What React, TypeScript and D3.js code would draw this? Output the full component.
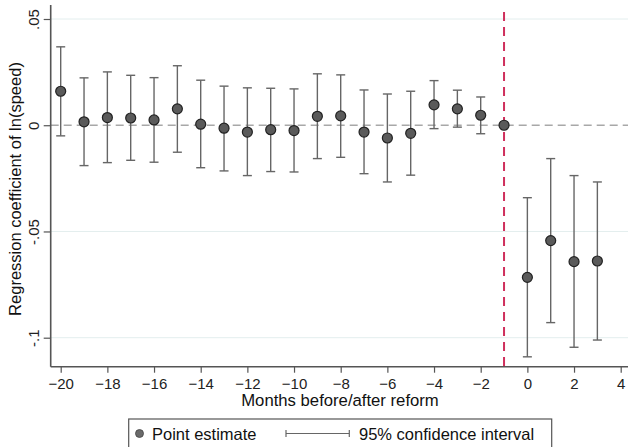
import React, { useEffect, useRef } from "react";
import { select, scaleLinear, axisLeft, axisBottom } from "d3";

// months relative to reform, point estimates and 95% CI bounds
const months = [-20, -19, -18, -17, -16, -15, -14, -13, -12, -11, -10, -9, -8, -7, -6, -5, -4, -3, -2, -1, 0, 1, 2, 3];
const estimates = [0.016, 0.0016, 0.0036, 0.0034, 0.0025, 0.0077, 0.0005, -0.0014, -0.0032, -0.0021, -0.0025, 0.0042, 0.0044, -0.0032, -0.006, -0.0038, 0.0096, 0.0077, 0.0047, 0, -0.0716, -0.0543, -0.0642, -0.0639];
const ciLow = [-0.005, -0.019, -0.0176, -0.0165, -0.0174, -0.0127, -0.02, -0.0215, -0.0237, -0.0218, -0.022, -0.0157, -0.0151, -0.0228, -0.0267, -0.0235, -0.0016, -0.0009, -0.004, null, -0.109, -0.0929, -0.1045, -0.1011];
const ciHigh = [0.0369, 0.0223, 0.0251, 0.0235, 0.0224, 0.028, 0.0212, 0.0184, 0.0176, 0.0174, 0.0171, 0.0242, 0.0237, 0.0166, 0.0147, 0.016, 0.021, 0.0165, 0.0133, null, -0.0341, -0.0157, -0.0237, -0.0267];
const xTicks = [-20, -18, -16, -14, -12, -10, -8, -6, -4, -2, 0, 2, 4];
const yTicks = [-0.1, -0.05, 0, 0.05];
const yTickLabels = ["-.1", "-.05", "0", ".05"];
const reformMonth = -1;

const W = 629;
const H = 447;
const FONT = "'Liberation Sans', Arial, Helvetica, sans-serif";

const App = () => {
  const ref = useRef<SVGSVGElement>(null);

  useEffect(() => {
    const svg = select(ref.current);
    svg.selectAll("*").remove();

    const x = scaleLinear().domain([-20, 4]).range([60.7, 620.7]);
    const y = scaleLinear().domain([-0.1, 0.05]).range([337.7, 19]);
    const left = 50.7;
    const right = 628;
    const top = 5;
    const bottom = 366.7;

    // gridlines
    svg
      .append("g")
      .selectAll("line")
      .data(yTicks.filter((d) => d !== 0))
      .join("line")
      .attr("x1", left)
      .attr("x2", right)
      .attr("y1", (d) => y(d))
      .attr("y2", (d) => y(d))
      .attr("stroke", "#e3eeee")
      .attr("stroke-width", 1);

    // zero line, dashed
    svg
      .append("line")
      .attr("x1", left)
      .attr("x2", right)
      .attr("y1", y(0))
      .attr("y2", y(0))
      .attr("stroke", "#a8a8a8")
      .attr("stroke-width", 1.3)
      .attr("stroke-dasharray", "8,5");

    // reform line
    svg
      .append("line")
      .attr("x1", x(reformMonth))
      .attr("x2", x(reformMonth))
      .attr("y1", 12)
      .attr("y2", bottom)
      .attr("stroke", "#cf2f5c")
      .attr("stroke-width", 2)
      .attr("stroke-dasharray", "9,6");

    // y axis
    const yAxis = axisLeft(y)
      .tickValues(yTicks)
      .tickSize(7)
      .tickFormat((d, i) => yTickLabels[i]);
    const gy = svg.append("g").attr("transform", `translate(${left},0)`).call(yAxis);
    gy.select(".domain").remove();
    gy.selectAll(".tick line").attr("stroke", "#555").attr("stroke-width", 1.2);
    gy.selectAll(".tick text")
      .attr("x", 0)
      .attr("y", -12)
      .attr("dy", 0)
      .attr("transform", "rotate(-90)")
      .attr("text-anchor", "middle")
      .attr("fill", "#222")
      .style("font-family", FONT)
      .style("font-size", "15px");
    svg
      .append("line")
      .attr("x1", left)
      .attr("x2", left)
      .attr("y1", top)
      .attr("y2", bottom)
      .attr("stroke", "#555")
      .attr("stroke-width", 1.6);

    // x axis
    const xAxis = axisBottom(x).tickValues(xTicks).tickSize(6).tickPadding(6);
    const gx = svg.append("g").attr("transform", `translate(0,${bottom})`).call(xAxis);
    gx.select(".domain").remove();
    gx.selectAll(".tick line").attr("stroke", "#555").attr("stroke-width", 1.2);
    gx.selectAll(".tick text")
      .attr("fill", "#222")
      .style("font-family", FONT)
      .style("font-size", "15px");
    svg
      .append("line")
      .attr("x1", left)
      .attr("x2", right)
      .attr("y1", bottom)
      .attr("y2", bottom)
      .attr("stroke", "#555")
      .attr("stroke-width", 1.6);

    // axis titles
    svg
      .append("text")
      .attr("x", 340)
      .attr("y", 406)
      .attr("text-anchor", "middle")
      .attr("fill", "#111")
      .style("font-family", FONT)
      .style("font-size", "16.7px")
      .text("Months before/after reform");
    svg
      .append("text")
      .attr("transform", "translate(21,189) rotate(-90)")
      .attr("text-anchor", "middle")
      .attr("fill", "#111")
      .style("font-family", FONT)
      .style("font-size", "16.5px")
      .text("Regression coefficient of ln(speed)");

    // confidence intervals
    const ci = months
      .map((m, i) => ({ m, lo: ciLow[i], hi: ciHigh[i] }))
      .filter((d) => d.lo !== null && d.hi !== null);
    const cap = 4.5;
    const gci = svg.append("g").attr("stroke", "#666").attr("stroke-width", 1.4);
    gci
      .selectAll(".v")
      .data(ci)
      .join("line")
      .attr("x1", (d) => x(d.m))
      .attr("x2", (d) => x(d.m))
      .attr("y1", (d) => y(d.lo as number))
      .attr("y2", (d) => y(d.hi as number));
    gci
      .selectAll(".lo")
      .data(ci)
      .join("line")
      .attr("x1", (d) => x(d.m) - cap)
      .attr("x2", (d) => x(d.m) + cap)
      .attr("y1", (d) => y(d.lo as number))
      .attr("y2", (d) => y(d.lo as number));
    gci
      .selectAll(".hi")
      .data(ci)
      .join("line")
      .attr("x1", (d) => x(d.m) - cap)
      .attr("x2", (d) => x(d.m) + cap)
      .attr("y1", (d) => y(d.hi as number))
      .attr("y2", (d) => y(d.hi as number));

    // point estimates
    svg
      .append("g")
      .selectAll("circle")
      .data(months)
      .join("circle")
      .attr("cx", (d) => x(d))
      .attr("cy", (d, i) => y(estimates[i]))
      .attr("r", 5)
      .attr("fill", "#5a5a5a")
      .attr("stroke", "#222")
      .attr("stroke-width", 1.2);

    // legend
    const lg = svg.append("g");
    lg.append("rect")
      .attr("x", 128.7)
      .attr("y", 419)
      .attr("width", 423)
      .attr("height", 40)
      .attr("fill", "#fff")
      .attr("stroke", "#555")
      .attr("stroke-width", 1.2);
    lg.append("circle")
      .attr("cx", 139.5)
      .attr("cy", 433.5)
      .attr("r", 4)
      .attr("fill", "#6a6a6a")
      .attr("stroke", "#444")
      .attr("stroke-width", 0.8);
    lg.append("text")
      .attr("x", 152)
      .attr("y", 440)
      .attr("fill", "#111")
      .style("font-family", FONT)
      .style("font-size", "16.5px")
      .text("Point estimate");
    const lgl = lg.append("g").attr("stroke", "#666").attr("stroke-width", 1.2);
    lgl.append("line").attr("x1", 286).attr("x2", 349.3).attr("y1", 433.5).attr("y2", 433.5);
    lgl.append("line").attr("x1", 286).attr("x2", 286).attr("y1", 430).attr("y2", 437);
    lgl.append("line").attr("x1", 349.3).attr("x2", 349.3).attr("y1", 430).attr("y2", 437);
    lg.append("text")
      .attr("x", 359)
      .attr("y", 440)
      .attr("fill", "#111")
      .style("font-family", FONT)
      .style("font-size", "16.5px")
      .text("95% confidence interval");
  }, []);

  return (
    <svg
      ref={ref}
      width={W}
      height={H}
      style={{ position: "absolute", left: 0, top: 0, background: "#fff" }}
    />
  );
};

export default App;
